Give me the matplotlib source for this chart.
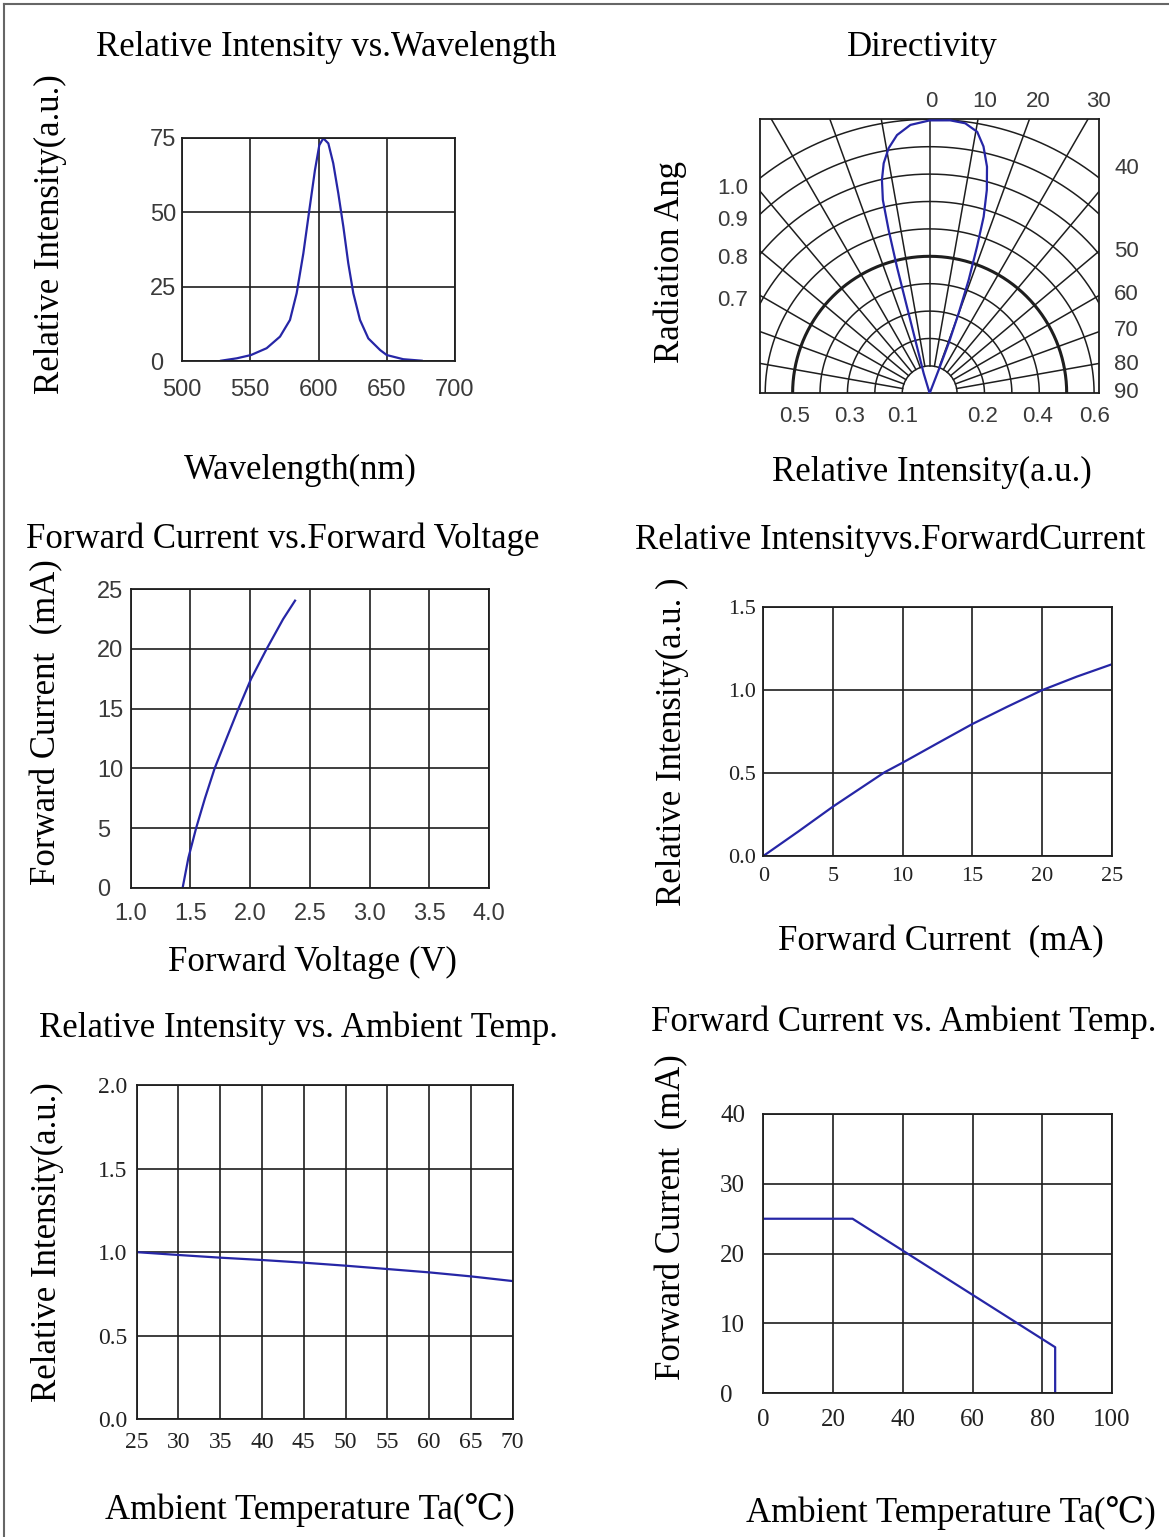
import numpy as np
import matplotlib
matplotlib.use('Agg')
import matplotlib.pyplot as plt
from matplotlib.lines import Line2D

# ---------------- data ----------------
# 1) Relative intensity vs wavelength
wl_nm = [528.6, 540.1, 550.5, 562.0, 571.8, 579.1, 584.0, 588.9, 593.3, 597.4, 600.6,
         603.5, 607.2, 610.8, 614.5, 618.2, 621.8, 625.5, 630.4, 636.5, 645.1, 650.0,
         662.1, 675.6]
wl_int = [0.1, 0.9, 2.0, 4.3, 8.2, 13.8, 22.8, 36.2, 50.8, 64.2, 72.6,
          74.9, 73.2, 66.5, 56.4, 45.2, 32.9, 22.8, 13.8, 7.6, 3.7, 2.0,
          0.6, 0.1]
wl_xticks = [500, 550, 600, 650, 700]
wl_yticks = [0, 25, 50, 75]

# 2) Directivity (angle in degrees from axis, normalised radius)
lobe_angle = [-20.0, -16.7, -15.2, -14.7, -14.5, -14.1, -13.6, -12.6, -11.3, -9.5, -7.2, -4.1,
              0.0, 4.3, 7.5, 10.3, 12.3, 14.2, 15.7, 17.0, 17.9, 19.0, 19.9, 20.8, 21.1, 21.1]
lobe_r = [0.0, 0.076, 0.177, 0.327, 0.477, 0.615, 0.726, 0.798, 0.856, 0.907, 0.950, 0.982,
          0.996, 0.999, 0.994, 0.970, 0.922, 0.853, 0.771, 0.674, 0.563, 0.437, 0.311, 0.195, 0.091, 0.0]
dir_circles = [0.1, 0.2, 0.3, 0.4, 0.5, 0.6, 0.7, 0.8, 0.9, 1.0]
dir_spokes = [-80, -70, -60, -50, -40, -30, -20, -10, 0, 10, 20, 30, 40, 50, 60, 70, 80]
dir_top_labels = ['0', '10', '20', '30']
dir_right_labels = ['40', '50', '60', '70', '80', '90']
dir_left_labels = ['1.0', '0.9', '0.8', '0.7']
dir_bottom_labels = ['0.5', '0.3', '0.1', '0.2', '0.4', '0.6']

# 3) Forward current vs forward voltage
vf_v = [1.435, 1.483, 1.548, 1.622, 1.703, 1.802, 1.902, 2.008, 2.138, 2.276, 2.376]
vf_ma = [0, 2.5, 5, 7.5, 10, 12.5, 15, 17.5, 20, 22.5, 24.05]
vf_xticks = [1.0, 1.5, 2.0, 2.5, 3.0, 3.5, 4.0]
vf_yticks = [0, 5, 10, 15, 20, 25]

# 4) Relative intensity vs forward current
if_ma = [0, 2.5, 5, 8.7, 10, 12.5, 15, 17.5, 20, 22.5, 25]
if_rel = [0, 0.147, 0.298, 0.505, 0.563, 0.68, 0.796, 0.90, 1.0, 1.082, 1.156]
if_xticks = [0, 5, 10, 15, 20, 25]
if_yticks = [0.0, 0.5, 1.0, 1.5]

# 5) Relative intensity vs ambient temperature
ta_c = [25, 30, 35, 40, 45, 50, 55, 60, 65, 70]
ta_rel = [1.0, 0.983, 0.967, 0.953, 0.937, 0.919, 0.899, 0.879, 0.855, 0.827]
ta_xticks = [25, 30, 35, 40, 45, 50, 55, 60, 65, 70]
ta_yticks = [0.0, 0.5, 1.0, 1.5, 2.0]

# 6) Forward current derating vs ambient temperature
der_c = [0, 25.6, 83.7, 83.7]
der_ma = [25, 25, 6.6, 0]
der_xticks = [0, 20, 40, 60, 80, 100]
der_yticks = [0, 10, 20, 30, 40]

# ---------------- style ----------------
W, H = 1169, 1537
fig = plt.figure(figsize=(W / 100, H / 100), dpi=100)
fig.patch.set_facecolor('white')

BLUE = '#2626a6'
GRID = '#1e1e1e'
SERIF = ['Liberation Serif', 'DejaVu Serif', 'Noto Sans CJK SC']
NARROW = ['Liberation Sans Narrow', 'Liberation Sans', 'DejaVu Sans']
LABEL_FS = 25


def px_axes(l, t, r, b):
    return fig.add_axes([l / W, 1 - b / H, (r - l) / W, (b - t) / H])


def ftext(px, py, s, **kw):
    return fig.text(px / W, 1 - py / H, s, **kw)


def style(ax, xlim, ylim, xt, yt, xlab, ylab, family, fs, color, xpad, ypad, yha='right'):
    ax.set_xlim(xlim)
    ax.set_ylim(ylim)
    ax.set_xticks(xt)
    ax.set_yticks(yt)
    ax.set_xticklabels(xlab, family=family, fontsize=fs, color=color)
    ax.set_yticklabels(ylab, family=family, fontsize=fs, color=color, ha=yha)
    ax.tick_params(axis='x', length=0, pad=xpad)
    ax.tick_params(axis='y', length=0, pad=ypad)
    ax.grid(True, color=GRID, lw=1.2)
    ax.set_axisbelow(True)
    for s in ax.spines.values():
        s.set_color(GRID)
        s.set_linewidth(1.3)


# border of the sheet
fig.add_artist(Line2D([4 / W, 4 / W], [0, 1 - 4 / H], transform=fig.transFigure, color='#666666', lw=1.5))
fig.add_artist(Line2D([4 / W, 1], [1 - 4 / H, 1 - 4 / H], transform=fig.transFigure, color='#666666', lw=1.5))

# ---- panel 1 ----
ax1 = px_axes(182, 138, 455, 361)
style(ax1, (500, 700), (0, 75), wl_xticks, wl_yticks,
      [str(v) for v in wl_xticks], [str(v) for v in wl_yticks], NARROW, 17, '#3a3a3a', 13, 23, yha='left')
ax1.plot(wl_nm, wl_int, color=BLUE, lw=1.6, solid_joinstyle='round')
ftext(326, 48, 'Relative Intensity vs.Wavelength', family=SERIF, fontsize=LABEL_FS, ha='center', va='center')
ftext(300, 470, 'Wavelength(nm)', family=SERIF, fontsize=LABEL_FS, ha='center', va='center')
ftext(50, 234, 'Relative Intensity(a.u.)', family=SERIF, fontsize=LABEL_FS, ha='center', va='center', rotation=90)

# ---- panel 2: directivity ----
ax2 = px_axes(760, 119.3, 1099.3, 393.3)
ax2.set_xlim(-0.619, 0.619)
ax2.set_ylim(0, 1.0)
ax2.set_xticks([])
ax2.set_yticks([])
for s in ax2.spines.values():
    s.set_color(GRID)
    s.set_linewidth(1.3)
tt = np.linspace(0, np.pi, 361)
for r in dir_circles:
    ax2.plot(r * np.cos(tt), r * np.sin(tt), color=GRID, lw=2.2 if abs(r - 0.5) < 1e-9 else 1.1)
for a in dir_spokes:
    ra = np.deg2rad(a)
    ax2.plot([0.1 * np.sin(ra), 1.8 * np.sin(ra)], [0.1 * np.cos(ra), 1.8 * np.cos(ra)], color=GRID, lw=1.1)
la = np.deg2rad(np.array(lobe_angle))
lr = np.array(lobe_r)
ax2.plot(lr * np.sin(la), lr * np.cos(la), color=BLUE, lw=1.6, zorder=5, solid_joinstyle='round')

DFS = 16
for s, px in zip(dir_top_labels, [931.7, 985, 1038, 1098]):
    ftext(px, 101.7, s, family=NARROW, fontsize=DFS, color='#3a3a3a', ha='center', va='center')
for s, py in zip(dir_right_labels, [168, 251.7, 295, 330, 364, 393]):
    ftext(1126.7, py, s, family=NARROW, fontsize=DFS, color='#3a3a3a', ha='center', va='center')
for s, py in zip(dir_left_labels, [188, 221, 259, 301]):
    ftext(733, py, s, family=NARROW, fontsize=DFS, color='#3a3a3a', ha='center', va='center')
for s, px in zip(dir_bottom_labels, [795, 850, 903, 983, 1038, 1095]):
    ftext(px, 416.7, s, family=NARROW, fontsize=DFS, color='#3a3a3a', ha='center', va='center')
ftext(922, 47, 'Directivity', family=SERIF, fontsize=LABEL_FS, ha='center', va='center')
ftext(932, 472, 'Relative Intensity(a.u.)', family=SERIF, fontsize=LABEL_FS, ha='center', va='center')
ftext(670, 262, 'Radiation Ang', family=SERIF, fontsize=LABEL_FS, ha='center', va='center', rotation=90)

# ---- panel 3 ----
ax3 = px_axes(130.7, 589.3, 489, 887.7)
style(ax3, (1.0, 4.0), (0, 25), vf_xticks, vf_yticks,
      ['%.1f' % v for v in vf_xticks], [str(v) for v in vf_yticks], NARROW, 17, '#3a3a3a', 11, 24, yha='left')
ax3.plot(vf_v, vf_ma, color=BLUE, lw=1.6, solid_joinstyle='round')
ftext(283, 539, 'Forward Current vs.Forward Voltage', family=SERIF, fontsize=LABEL_FS, ha='center', va='center')
ftext(312, 962, 'Forward Voltage (V)', family=SERIF, fontsize=LABEL_FS, ha='center', va='center')
ftext(47, 722, 'Forward Current  (mA)', family=SERIF, fontsize=LABEL_FS, ha='center', va='center', rotation=90)

# ---- panel 4 ----
ax4 = px_axes(763.3, 607.3, 1111.7, 856)
style(ax4, (0, 25), (0, 1.5), if_xticks, if_yticks,
      [str(v) for v in if_xticks], ['%.1f' % v for v in if_yticks], SERIF, 16, '#222222', 8, 5)
ax4.plot(if_ma, if_rel, color=BLUE, lw=1.6, solid_joinstyle='round')
ftext(890, 540, 'Relative Intensityvs.ForwardCurrent', family=SERIF, fontsize=LABEL_FS, ha='center', va='center')
ftext(941, 942, 'Forward Current  (mA)', family=SERIF, fontsize=LABEL_FS, ha='center', va='center')
ftext(672, 742, 'Relative Intensity(a.u. )', family=SERIF, fontsize=LABEL_FS, ha='center', va='center', rotation=90)

# ---- panel 5 ----
ax5 = px_axes(136.7, 1085, 512.7, 1419.3)
style(ax5, (25, 70), (0, 2.0), ta_xticks, ta_yticks,
      [str(v) for v in ta_xticks], ['%.1f' % v for v in ta_yticks], SERIF, 17, '#222222', 9, 7)
ax5.plot(ta_c, ta_rel, color=BLUE, lw=1.6, solid_joinstyle='round')
ftext(298, 1028, 'Relative Intensity vs. Ambient Temp.', family=SERIF, fontsize=LABEL_FS, ha='center', va='center')
ftext(310, 1510, 'Ambient Temperature Ta(\u2103)', family=SERIF, fontsize=LABEL_FS, ha='center', va='center')
ftext(47, 1242, 'Relative Intensity(a.u.)', family=SERIF, fontsize=LABEL_FS, ha='center', va='center', rotation=90)

# ---- panel 6 ----
ax6 = px_axes(763.3, 1114, 1112, 1393.3)
style(ax6, (0, 100), (0, 40), der_xticks, der_yticks,
      [str(v) for v in der_xticks], [str(v) for v in der_yticks], SERIF, 18, '#222222', 11, 31, yha='left')
ax6.plot(der_c, der_ma, color=BLUE, lw=1.6)
ftext(904, 1022, 'Forward Current vs. Ambient Temp.', family=SERIF, fontsize=LABEL_FS, ha='center', va='center')
ftext(951, 1513, 'Ambient Temperature Ta(\u2103)', family=SERIF, fontsize=LABEL_FS, ha='center', va='center')
ftext(672, 1217, 'Forward Current  (mA)', family=SERIF, fontsize=LABEL_FS, ha='center', va='center', rotation=90)

fig.savefig('out.png', dpi=100, facecolor='white')
